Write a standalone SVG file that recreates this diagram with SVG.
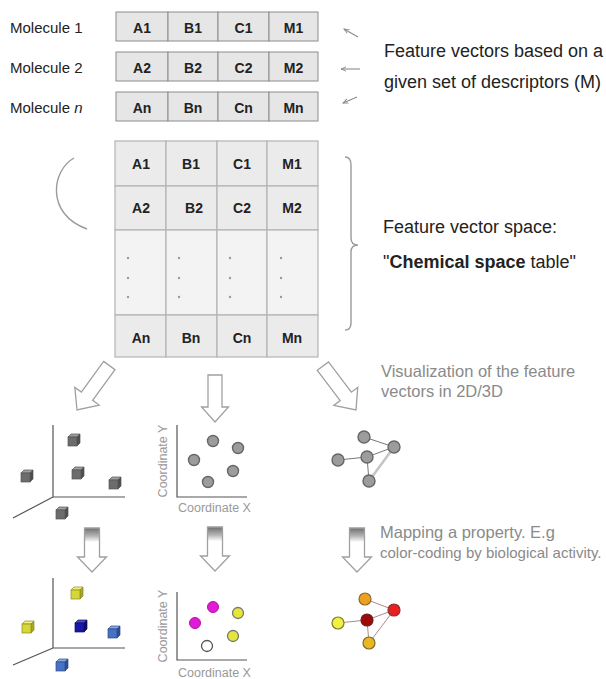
<svg xmlns="http://www.w3.org/2000/svg" xmlns:xlink="http://www.w3.org/1999/xlink" width="606" height="679" viewBox="0 0 606 679">
<style>
text{font-family:"Liberation Sans",Arial,sans-serif}
.lbl{font-size:15px;fill:#222}
.big{font-size:18px;fill:#222}
.cap{font-size:16.5px;fill:#8a8a8a}
.cap2{font-size:15px;fill:#8a8a8a}
.cell{font-size:14px;font-weight:bold;fill:#222;text-anchor:middle}
.row rect{fill:#e6e6e6;stroke:#8c8c8c;stroke-width:1}
.tbl rect{fill:#ebebeb;stroke:#b4b4b4;stroke-width:1.2}
.tbl rect.lt{fill:#f3f3f3}
.dot{fill:#9a9a9a}
.axis{stroke:#555;stroke-width:1.2;fill:none}
.coord{font-size:12.5px;fill:#999}
.blk{fill:#fff;stroke:#a0a0a0;stroke-width:1.3}
.blk2{fill:url(#shade);stroke:#a0a0a0;stroke-width:1.3}
.ptr{stroke:#8a8a8a;stroke-width:1.1;fill:none;marker-end:url(#head)}
.deco{stroke:#9a9a9a;stroke-width:1.4;fill:none}
.gc{fill:#9c9c9c;stroke:#666;stroke-width:1.4}
.edge{stroke:#777;stroke-width:1}
.cedge{stroke:#b08888;stroke-width:1}
</style>
<defs>
<linearGradient id="shade" x1="0" y1="0" x2="0" y2="1">
<stop offset="0" stop-color="#6e6e6e"/>
<stop offset="0.18" stop-color="#b4b4b4"/>
<stop offset="0.32" stop-color="#fff"/>
<stop offset="1" stop-color="#fff"/>
</linearGradient>
<marker id="head" viewBox="0 0 8 8" refX="7" refY="4" markerWidth="6" markerHeight="6" orient="auto" markerUnits="userSpaceOnUse">
<path d="M0,1 L7,4 L0,7" fill="none" stroke="#8a8a8a" stroke-width="1.2"/>
</marker>
<path id="arrowLong" d="M-7,-55 L7,-55 L7,-17 L15,-17 L0,0 L-15,-17 L-7,-17 Z"/>
<path id="arrowMid" d="M-7,-47 L7,-47 L7,-15 L13.5,-15 L0,0 L-13.5,-15 L-7,-15 Z"/>
<path id="arrowShort" d="M-7.5,-44 L7.5,-44 L7.5,-15 L14.5,-15 L0,0 L-14.5,-15 L-7.5,-15 Z"/>
<g id="cube-grey">
<path d="M-6,-3 L-3,-6 L6,-6 L3,-3 Z" fill="#a0a0a0" stroke="#555" stroke-width="0.7"/>
<path d="M3,-3 L6,-6 L6,3 L3,6 Z" fill="#4e4e4e" stroke="#555" stroke-width="0.7"/>
<rect x="-6" y="-3" width="9" height="9" fill="#6c6c6c" stroke="#555" stroke-width="0.7"/>
</g>
<g id="cube-yellow">
<path d="M-6,-3 L-3,-6 L6,-6 L3,-3 Z" fill="#f2f27a" stroke="#8a8a30" stroke-width="0.7"/>
<path d="M3,-3 L6,-6 L6,3 L3,6 Z" fill="#a9a920" stroke="#8a8a30" stroke-width="0.7"/>
<rect x="-6" y="-3" width="9" height="9" fill="#d6d634" stroke="#8a8a30" stroke-width="0.7"/>
</g>
<g id="cube-navy">
<path d="M-6,-3 L-3,-6 L6,-6 L3,-3 Z" fill="#4a4ad8" stroke="#10105a" stroke-width="0.7"/>
<path d="M3,-3 L6,-6 L6,3 L3,6 Z" fill="#0c0c70" stroke="#10105a" stroke-width="0.7"/>
<rect x="-6" y="-3" width="9" height="9" fill="#1818a8" stroke="#10105a" stroke-width="0.7"/>
</g>
<g id="cube-blue">
<path d="M-6,-3 L-3,-6 L6,-6 L3,-3 Z" fill="#88a6e6" stroke="#2c4a88" stroke-width="0.7"/>
<path d="M3,-3 L6,-6 L6,3 L3,6 Z" fill="#2e4e98" stroke="#2c4a88" stroke-width="0.7"/>
<rect x="-6" y="-3" width="9" height="9" fill="#4a72c4" stroke="#2c4a88" stroke-width="0.7"/>
</g>
</defs>
<rect width="606" height="679" fill="#fff"/>

<!-- molecule feature vector rows -->
<g id="molecule-1" class="row">
<text class="lbl" x="10" y="33">Molecule 1</text>
<rect x="116" y="12" width="52" height="29"/><rect x="168" y="12" width="50" height="29"/><rect x="218" y="12" width="51" height="29"/><rect x="269" y="12" width="49" height="29"/>
<text class="cell" x="142" y="33">A1</text><text class="cell" x="193" y="33">B1</text><text class="cell" x="243.5" y="33">C1</text><text class="cell" x="293.5" y="33">M1</text>
</g>
<g id="molecule-2" class="row">
<text class="lbl" x="10" y="73">Molecule 2</text>
<rect x="116" y="52" width="52" height="29"/><rect x="168" y="52" width="50" height="29"/><rect x="218" y="52" width="51" height="29"/><rect x="269" y="52" width="49" height="29"/>
<text class="cell" x="142" y="73">A2</text><text class="cell" x="193" y="73">B2</text><text class="cell" x="243.5" y="73">C2</text><text class="cell" x="293.5" y="73">M2</text>
</g>
<g id="molecule-n" class="row">
<text class="lbl" x="10" y="113">Molecule <tspan font-style="italic">n</tspan></text>
<rect x="116" y="92" width="52" height="29"/><rect x="168" y="92" width="50" height="29"/><rect x="218" y="92" width="51" height="29"/><rect x="269" y="92" width="49" height="29"/>
<text class="cell" x="142" y="113">An</text><text class="cell" x="193" y="113">Bn</text><text class="cell" x="243.5" y="113">Cn</text><text class="cell" x="293.5" y="113">Mn</text>
</g>
<g id="feature-vectors-label">
<text class="big" x="384" y="57">Feature vectors based on a</text>
<text class="big" x="384" y="88">given set of descriptors (M)</text>
</g>

<!-- chemical space table -->
<g id="chemical-space-table" class="tbl">
<rect x="115" y="141" width="51" height="45"/><rect x="166" y="141" width="51" height="45"/><rect x="217" y="141" width="50" height="45"/><rect x="267" y="141" width="51" height="45"/>
<rect x="115" y="186" width="51" height="44"/><rect x="166" y="186" width="51" height="44"/><rect x="217" y="186" width="50" height="44"/><rect x="267" y="186" width="51" height="44"/>
<rect class="lt" x="115" y="230" width="51" height="85"/><rect class="lt" x="166" y="230" width="51" height="85"/><rect class="lt" x="217" y="230" width="50" height="85"/><rect class="lt" x="267" y="230" width="51" height="85"/>
<rect x="115" y="315" width="51" height="42"/><rect x="166" y="315" width="51" height="42"/><rect x="217" y="315" width="50" height="42"/><rect x="267" y="315" width="51" height="42"/>
<text class="cell" x="141" y="169">A1</text><text class="cell" x="191" y="169">B1</text><text class="cell" x="242" y="169">C1</text><text class="cell" x="292" y="169">M1</text>
<text class="cell" x="141" y="213">A2</text><text class="cell" x="194" y="213">B2</text><text class="cell" x="242" y="213">C2</text><text class="cell" x="292" y="213">M2</text>
<text class="cell" x="141" y="343">An</text><text class="cell" x="191" y="343">Bn</text><text class="cell" x="242" y="343">Cn</text><text class="cell" x="292" y="343">Mn</text>
<g class="dot">
<circle cx="128" cy="258" r="1.2"/><circle cx="128" cy="278" r="1.2"/><circle cx="128" cy="297" r="1.2"/>
<circle cx="179" cy="258" r="1.2"/><circle cx="179" cy="278" r="1.2"/><circle cx="179" cy="297" r="1.2"/>
<circle cx="230" cy="258" r="1.2"/><circle cx="230" cy="278" r="1.2"/><circle cx="230" cy="297" r="1.2"/>
<circle cx="281" cy="258" r="1.2"/><circle cx="281" cy="278" r="1.2"/><circle cx="281" cy="297" r="1.2"/>
</g>
</g>
<g id="chemical-space-label">
<text class="big" x="383" y="233">Feature vector space:</text>
<text class="big" x="383" y="268">"<tspan font-weight="bold">Chemical space</tspan> table"</text>
</g>
<g id="brackets">
<path class="deco" d="M74,158 C52,170 45,214 87,229"/>
<path class="deco" d="M345,157 Q351,157 351,165 L351,238 Q351,245 358,245 Q351,245 351,252 L351,323 Q351,330 345,330"/>
</g>

<!-- captions -->
<g id="visualization-label">
<text class="cap" x="381" y="377">Visualization of the feature</text>
<text class="cap" x="381" y="397">vectors in 2D/3D</text>
</g>
<g id="mapping-label">
<text class="cap" x="380" y="538">Mapping a property. E.g</text>
<text class="cap2" x="380" y="558">color-coding by biological activity.</text>
</g>

<!-- 3D plot grey -->
<g id="plot3d-grey">
<path class="axis" d="M53,425 L53,497 L125,497 M53,497 L13,518"/>
<use xlink:href="#cube-grey" x="74" y="440"/>
<use xlink:href="#cube-grey" x="78" y="473"/>
<use xlink:href="#cube-grey" x="115" y="483"/>
<use xlink:href="#cube-grey" x="27" y="476"/>
<use xlink:href="#cube-grey" x="62" y="513"/>
</g>
<!-- 2D plot grey -->
<g id="plot2d-grey">
<path class="axis" d="M177,425 L177,497 L247,497"/>
<text class="coord" transform="translate(167,461) rotate(-90)" text-anchor="middle">Coordinate Y</text>
<text class="coord" x="178" y="512">Coordinate X</text>
<circle class="gc" cx="213" cy="441" r="5.5"/>
<circle class="gc" cx="238" cy="448" r="5.5"/>
<circle class="gc" cx="194" cy="460" r="5.5"/>
<circle class="gc" cx="233" cy="471" r="5.5"/>
<circle class="gc" cx="208" cy="482" r="5.5"/>
</g>
<!-- network grey -->
<g id="network-grey">
<line class="edge" x1="364" y1="437" x2="394" y2="447"/>
<line class="edge" x1="338" y1="460" x2="367" y2="457"/>
<line class="edge" x1="367" y1="457" x2="394" y2="447"/>
<line class="edge" x1="367" y1="457" x2="369" y2="481"/>
<line x1="369" y1="481" x2="394" y2="447" stroke="#c4c4c4" stroke-width="2.5"/>
<circle class="gc" cx="364" cy="437" r="6"/>
<circle class="gc" cx="394" cy="447" r="6"/>
<circle class="gc" cx="367" cy="457" r="6"/>
<circle class="gc" cx="338" cy="460" r="6"/>
<circle class="gc" cx="369" cy="481" r="6"/>
</g>

<!-- 3D plot colored -->
<g id="plot3d-colored">
<path class="axis" d="M53,578 L53,648 L125,648 M53,648 L13,665"/>
<use xlink:href="#cube-yellow" x="77" y="593"/>
<use xlink:href="#cube-navy" x="81" y="626"/>
<use xlink:href="#cube-blue" x="114" y="632"/>
<use xlink:href="#cube-yellow" x="28" y="627"/>
<use xlink:href="#cube-blue" x="62" y="665"/>
</g>
<!-- 2D plot colored -->
<g id="plot2d-colored">
<path class="axis" d="M177,592 L177,660 L247,660"/>
<text class="coord" transform="translate(167,626) rotate(-90)" text-anchor="middle">Coordinate Y</text>
<text class="coord" x="178" y="677">Coordinate X</text>
<circle cx="213" cy="607" r="5.5" fill="#e01ad6" stroke="#b0109c" stroke-width="1"/>
<circle cx="238" cy="613" r="5.5" fill="#e6e63a" stroke="#777" stroke-width="1.3"/>
<circle cx="195" cy="623" r="5.5" fill="#e01ad6" stroke="#b0109c" stroke-width="1"/>
<circle cx="233" cy="636" r="5.5" fill="#e6e63a" stroke="#777" stroke-width="1.3"/>
<circle cx="207" cy="646" r="5.5" fill="#fff" stroke="#555" stroke-width="1.3"/>
</g>
<!-- network colored -->
<g id="network-colored">
<line class="cedge" x1="365" y1="599" x2="394" y2="610"/>
<line class="cedge" x1="338" y1="623" x2="367" y2="620"/>
<line class="cedge" x1="367" y1="620" x2="394" y2="610"/>
<line class="cedge" x1="367" y1="620" x2="369" y2="643"/>
<line class="cedge" x1="369" y1="643" x2="394" y2="610"/>
<circle cx="365" cy="599" r="6" fill="#f0a020" stroke="#8a6a30" stroke-width="1.2"/>
<circle cx="394" cy="610" r="6" fill="#e82020" stroke="#8a3030" stroke-width="1.2"/>
<circle cx="367" cy="620" r="6" fill="#a00808" stroke="#6a2020" stroke-width="1.2"/>
<circle cx="338" cy="623" r="6" fill="#f0f040" stroke="#7a7a30" stroke-width="1.2"/>
<circle cx="369" cy="643" r="6" fill="#e8b820" stroke="#7a6a30" stroke-width="1.2"/>
</g>

<!-- connectors -->
<g id="connectors">
<line class="ptr" x1="358" y1="37" x2="344" y2="29"/>
<line class="ptr" x1="360" y1="69" x2="341" y2="69"/>
<line class="ptr" x1="357" y1="97" x2="343" y2="103"/>
<use class="blk" xlink:href="#arrowLong" transform="translate(77,410) rotate(36)"/>
<use class="blk" xlink:href="#arrowMid" transform="translate(215,422)"/>
<use class="blk" xlink:href="#arrowLong" transform="translate(356,410) rotate(-37)"/>
<use class="blk2" xlink:href="#arrowShort" transform="translate(92,572)"/>
<use class="blk2" xlink:href="#arrowShort" transform="translate(215,571)"/>
<use class="blk2" xlink:href="#arrowShort" transform="translate(357,572)"/>
</g>
</svg>
